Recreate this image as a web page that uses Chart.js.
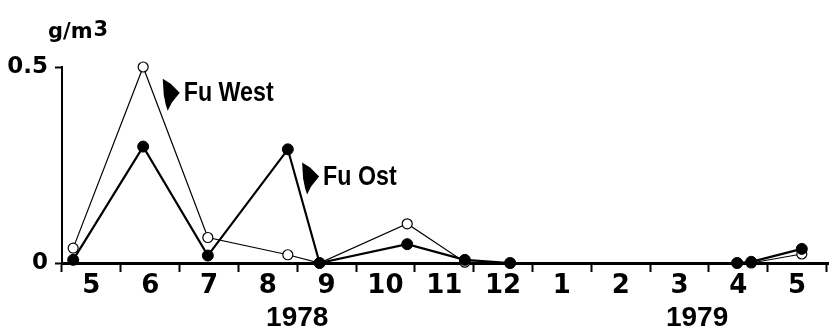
<!DOCTYPE html>
<html>
<head>
<meta charset="utf-8">
<script src="https://cdn.jsdelivr.net/npm/chart.js@4"></script>
<style>
  html, body { margin: 0; padding: 0; background: #fff; }
</style>
</head>
<body>
<canvas id="chart" width="835" height="329"></canvas>
<script>
// months from May 1978 (0) to end of May 1979 (13)
const monthLabels = ['5', '6', '7', '8', '9', '10', '11', '12', '1', '2', '3', '4', '5'];
const monthPos = [0.5, 1.5, 2.5, 3.5, 4.5, 5.5, 6.5, 7.5, 8.5, 9.5, 10.5, 11.5, 12.5];
const yearLabels = ['1978', '1979'];
const yearPos = [4.0, 10.8];
const yTicks = [0, 0.5];

// sampling dates (in months) and concentrations g/m3
const sampleMonth = [0.19, 1.38, 2.48, 3.84, 4.38, 5.87, 6.85, 7.62, 11.48, 11.72, 12.58];
const westValues = [0.038, 0.50, 0.065, 0.021, 0, 0.10, 0.002, 0, 0, 0, 0.023];
const ostValues = [0.008, 0.297, 0.019, 0.29, 0, 0.048, 0.008, 0, 0, 0.003, 0.036];

const seriesNames = ['Fu West', 'Fu Ost'];
const nameX = [2.07, 4.44];
const nameY = [0.432, 0.218];

const toPoints = vals => vals.map((v, i) => ({ x: sampleMonth[i], y: v }));

const labelPlugin = {
  id: 'labels',
  afterDraw(chart) {
    const ctx = chart.ctx;
    const xs = chart.scales.x, ys = chart.scales.y;
    ctx.save();
    ctx.fillStyle = '#000';
    // unit
    ctx.textBaseline = 'alphabetic';
    ctx.textAlign = 'left';
    ctx.font = 'bold 21px "DejaVu Sans"';
    const ux = chart.chartArea.left - 14;
    ctx.fillText('g/m', ux, 38);
    ctx.fillText('3', ux + ctx.measureText('g/m').width + 1, 36);
    // series names with arrows
    ctx.font = 'bold 27px "Liberation Sans", sans-serif';
    ctx.textBaseline = 'middle';
    seriesNames.forEach((name, i) => {
      const tx = xs.getPixelForValue(nameX[i]);
      const ty = ys.getPixelForValue(nameY[i]);
      const ax = tx - 21, ay = ty + 1;
      ctx.beginPath();
      ctx.moveTo(ax, ay - 16);
      ctx.lineTo(ax + 8, ay - 11);
      ctx.lineTo(ax + 17, ay - 2);
      ctx.lineTo(ax + 9, ay + 8);
      ctx.lineTo(ax + 5, ay + 16);
      ctx.lineTo(ax + 3, ay + 10);
      ctx.lineTo(ax + 1, ay);
      ctx.closePath();
      ctx.fill();
      // condensed lettering
      ctx.save();
      ctx.translate(tx, ty);
      ctx.scale(0.86, 1);
      ctx.fillText(name, 0, 0);
      ctx.restore();
    });
    ctx.restore();
  }
};

new Chart(document.getElementById('chart'), {
  type: 'line',
  data: {
    datasets: [
      {
        label: 'Fu Ost',
        data: toPoints(ostValues),
        order: 0,
        borderColor: '#000',
        borderWidth: 2.2,
        pointRadius: 5.5,
        pointBackgroundColor: '#000',
        pointBorderColor: '#000',
        pointBorderWidth: 1,
        tension: 0,
        clip: false
      },
      {
        label: 'Fu West',
        data: toPoints(westValues),
        order: 1,
        borderColor: '#000',
        borderWidth: 1.2,
        pointRadius: 5,
        pointBackgroundColor: '#fff',
        pointBorderColor: '#000',
        pointBorderWidth: 1.2,
        tension: 0,
        clip: false
      }
    ]
  },
  options: {
    responsive: false,
    animation: false,
    devicePixelRatio: 1,
    layout: { padding: { top: 67, right: 0, left: 0, bottom: 0 } },
    plugins: { legend: { display: false }, tooltip: { enabled: false } },
    scales: {
      x: {
        type: 'linear',
        position: 'bottom',
        weight: 0,
        min: 0,
        max: 13.034,
        afterBuildTicks: s => { s.ticks = monthPos.map(v => ({ value: v })); },
        afterFit: s => { s.height = 40; },
        ticks: {
          autoSkip: false,
          maxRotation: 0,
          padding: -1,
          color: '#000',
          font: { family: 'DejaVu Sans', size: 26, weight: 'bold' },
          callback: (v, i) => monthLabels[i]
        },
        grid: { offset: true, drawOnChartArea: false, tickLength: 9, tickColor: '#000', tickWidth: 2 },
        border: { color: '#000', width: 3 }
      },
      xYear: {
        type: 'linear',
        position: 'bottom',
        weight: 1,
        min: 0,
        max: 13.034,
        afterBuildTicks: s => { s.ticks = yearPos.map(v => ({ value: v })); },
        afterFit: s => { s.height = 26; },
        ticks: {
          autoSkip: false,
          maxRotation: 0,
          padding: -10,
          color: '#000',
          font: { family: 'Liberation Sans', size: 28, weight: 'bold' },
          callback: (v, i) => yearLabels[i]
        },
        grid: { display: false },
        border: { display: false }
      },
      y: {
        type: 'linear',
        position: 'left',
        min: 0,
        max: 0.5,
        afterBuildTicks: s => { s.ticks = yTicks.map(v => ({ value: v })); },
        afterFit: s => { s.width = 62; },
        ticks: {
          padding: 7,
          color: '#000',
          font: { family: 'DejaVu Sans', size: 23, weight: 'bold' },
          callback: v => String(v)
        },
        grid: { drawOnChartArea: false, tickLength: 7, tickColor: '#000', tickWidth: 2 },
        border: { color: '#000', width: 2 }
      }
    }
  },
  plugins: [labelPlugin]
});
</script>
</body>
</html>
